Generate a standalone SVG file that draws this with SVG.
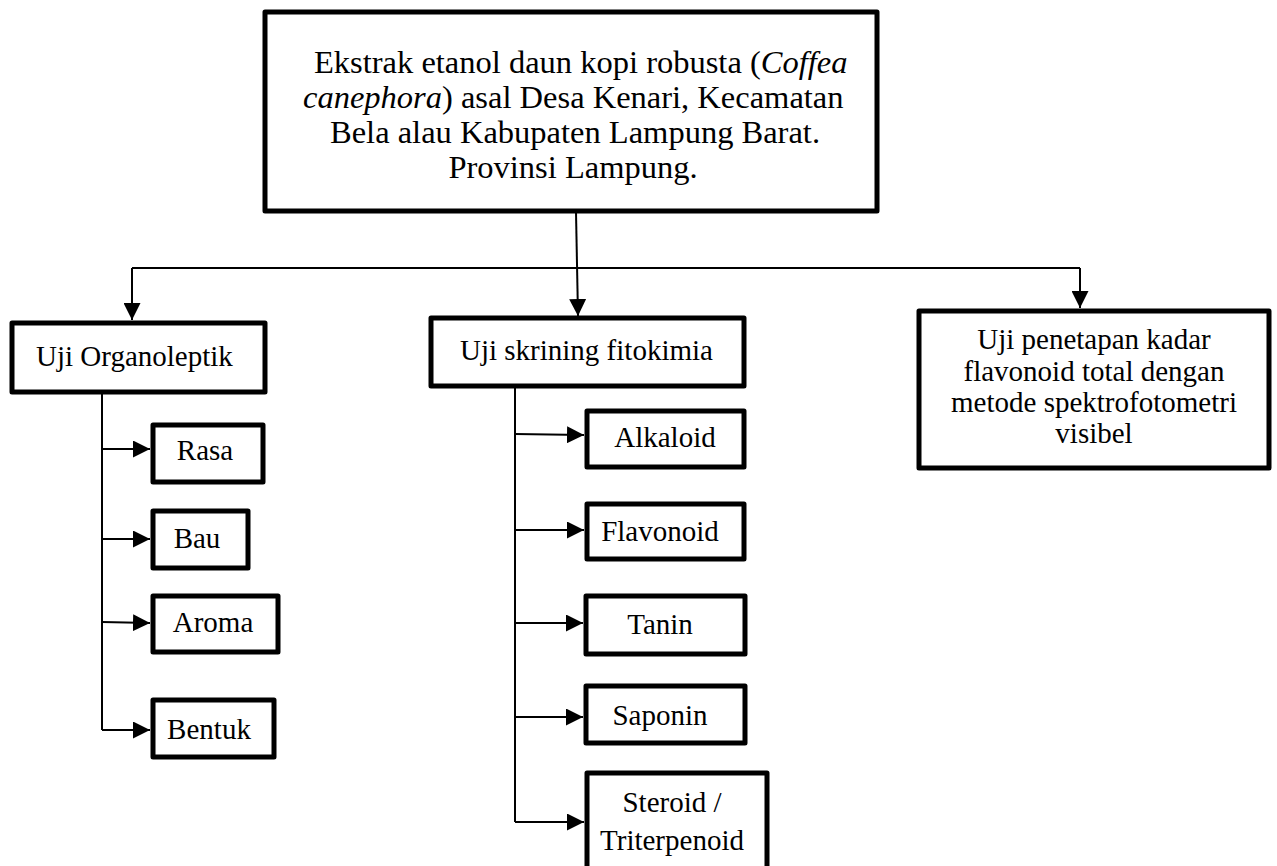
<svg xmlns="http://www.w3.org/2000/svg" width="1277" height="866" viewBox="0 0 1277 866">
<style>
.box{fill:#fff;stroke:#000;stroke-width:5;stroke-linejoin:round}
.t{font-family:"Liberation Serif","Times New Roman",serif;font-size:29px;fill:#000}
.big{font-size:32.5px}
.m{text-anchor:middle}
.c{fill:none;stroke:#000;stroke-width:2}
</style>
<defs>
<marker id="a" viewBox="0 0 14 14" refX="14" refY="7" markerWidth="17" markerHeight="17" markerUnits="userSpaceOnUse" orient="auto">
<path d="M0,0 L14,7 L0,14 Z" fill="#000"/>
</marker>
</defs>
<rect width="1277" height="866" fill="#fff"/>
<g id="connectors">
<path class="c" d="M576,212 L578,316" marker-end="url(#a)"/>
<path class="c" d="M132,268 L1080,268"/>
<path class="c" d="M132,268 L132,320" marker-end="url(#a)"/>
<path class="c" d="M1080,268 L1080,308" marker-end="url(#a)"/>
<path class="c" d="M102,393 L102,730"/>
<path class="c" d="M102,449 L150,449" marker-end="url(#a)"/>
<path class="c" d="M102,539 L150,539" marker-end="url(#a)"/>
<path class="c" d="M102,622 L150,623" marker-end="url(#a)"/>
<path class="c" d="M102,730 L150,730" marker-end="url(#a)"/>
<path class="c" d="M515,387 L515,822"/>
<path class="c" d="M515,434 L584,435" marker-end="url(#a)"/>
<path class="c" d="M515,530 L584,530" marker-end="url(#a)"/>
<path class="c" d="M515,623 L583,623" marker-end="url(#a)"/>
<path class="c" d="M515,717 L583,717" marker-end="url(#a)"/>
<path class="c" d="M515,822 L584,822" marker-end="url(#a)"/>
</g>
<g id="main">
<rect class="box" x="265" y="12" width="612" height="199"/>
<text class="t big" x="314" y="73">Ekstrak etanol daun kopi robusta (<tspan font-style="italic">Coffea</tspan></text>
<text class="t big" x="303" y="108"><tspan font-style="italic">canephora</tspan>) asal Desa Kenari, Kecamatan</text>
<text class="t big" x="330" y="143">Bela alau Kabupaten Lampung Barat.</text>
<text class="t big m" x="573" y="178">Provinsi Lampung.</text>
</g>
<g id="organoleptik">
<rect class="box" x="12" y="323" width="253" height="69"/>
<text class="t" x="36" y="366">Uji Organoleptik</text>
</g>
<g id="skrining">
<rect class="box" x="431" y="318" width="313" height="68"/>
<text class="t" x="460" y="360">Uji skrining fitokimia</text>
</g>
<g id="flavonoid-total">
<rect class="box" x="919" y="311" width="350" height="157"/>
<text class="t m" x="1094" y="349">Uji penetapan kadar</text>
<text class="t m" x="1094" y="381">flavonoid total dengan</text>
<text class="t m" x="1094" y="412">metode spektrofotometri</text>
<text class="t m" x="1094" y="443">visibel</text>
</g>
<g id="rasa">
<rect class="box" x="153" y="425" width="110" height="57"/>
<text class="t m" x="205" y="460">Rasa</text>
</g>
<g id="bau">
<rect class="box" x="153" y="511" width="95" height="57"/>
<text class="t m" x="197" y="548">Bau</text>
</g>
<g id="aroma">
<rect class="box" x="153" y="596" width="125" height="56"/>
<text class="t m" x="213" y="632">Aroma</text>
</g>
<g id="bentuk">
<rect class="box" x="153" y="700" width="121" height="57"/>
<text class="t m" x="209" y="739">Bentuk</text>
</g>
<g id="alkaloid">
<rect class="box" x="587" y="411" width="157" height="56"/>
<text class="t m" x="665" y="447">Alkaloid</text>
</g>
<g id="flavonoid">
<rect class="box" x="587" y="504" width="157" height="55"/>
<text class="t m" x="660" y="541">Flavonoid</text>
</g>
<g id="tanin">
<rect class="box" x="586" y="596" width="159" height="58"/>
<text class="t m" x="660" y="634">Tanin</text>
</g>
<g id="saponin">
<rect class="box" x="586" y="686" width="159" height="57"/>
<text class="t m" x="660" y="725">Saponin</text>
</g>
<g id="steroid">
<rect class="box" x="587" y="773" width="180" height="100"/>
<text class="t m" x="672" y="812">Steroid /</text>
<text class="t m" x="672" y="850">Triterpenoid</text>
</g>
</svg>
